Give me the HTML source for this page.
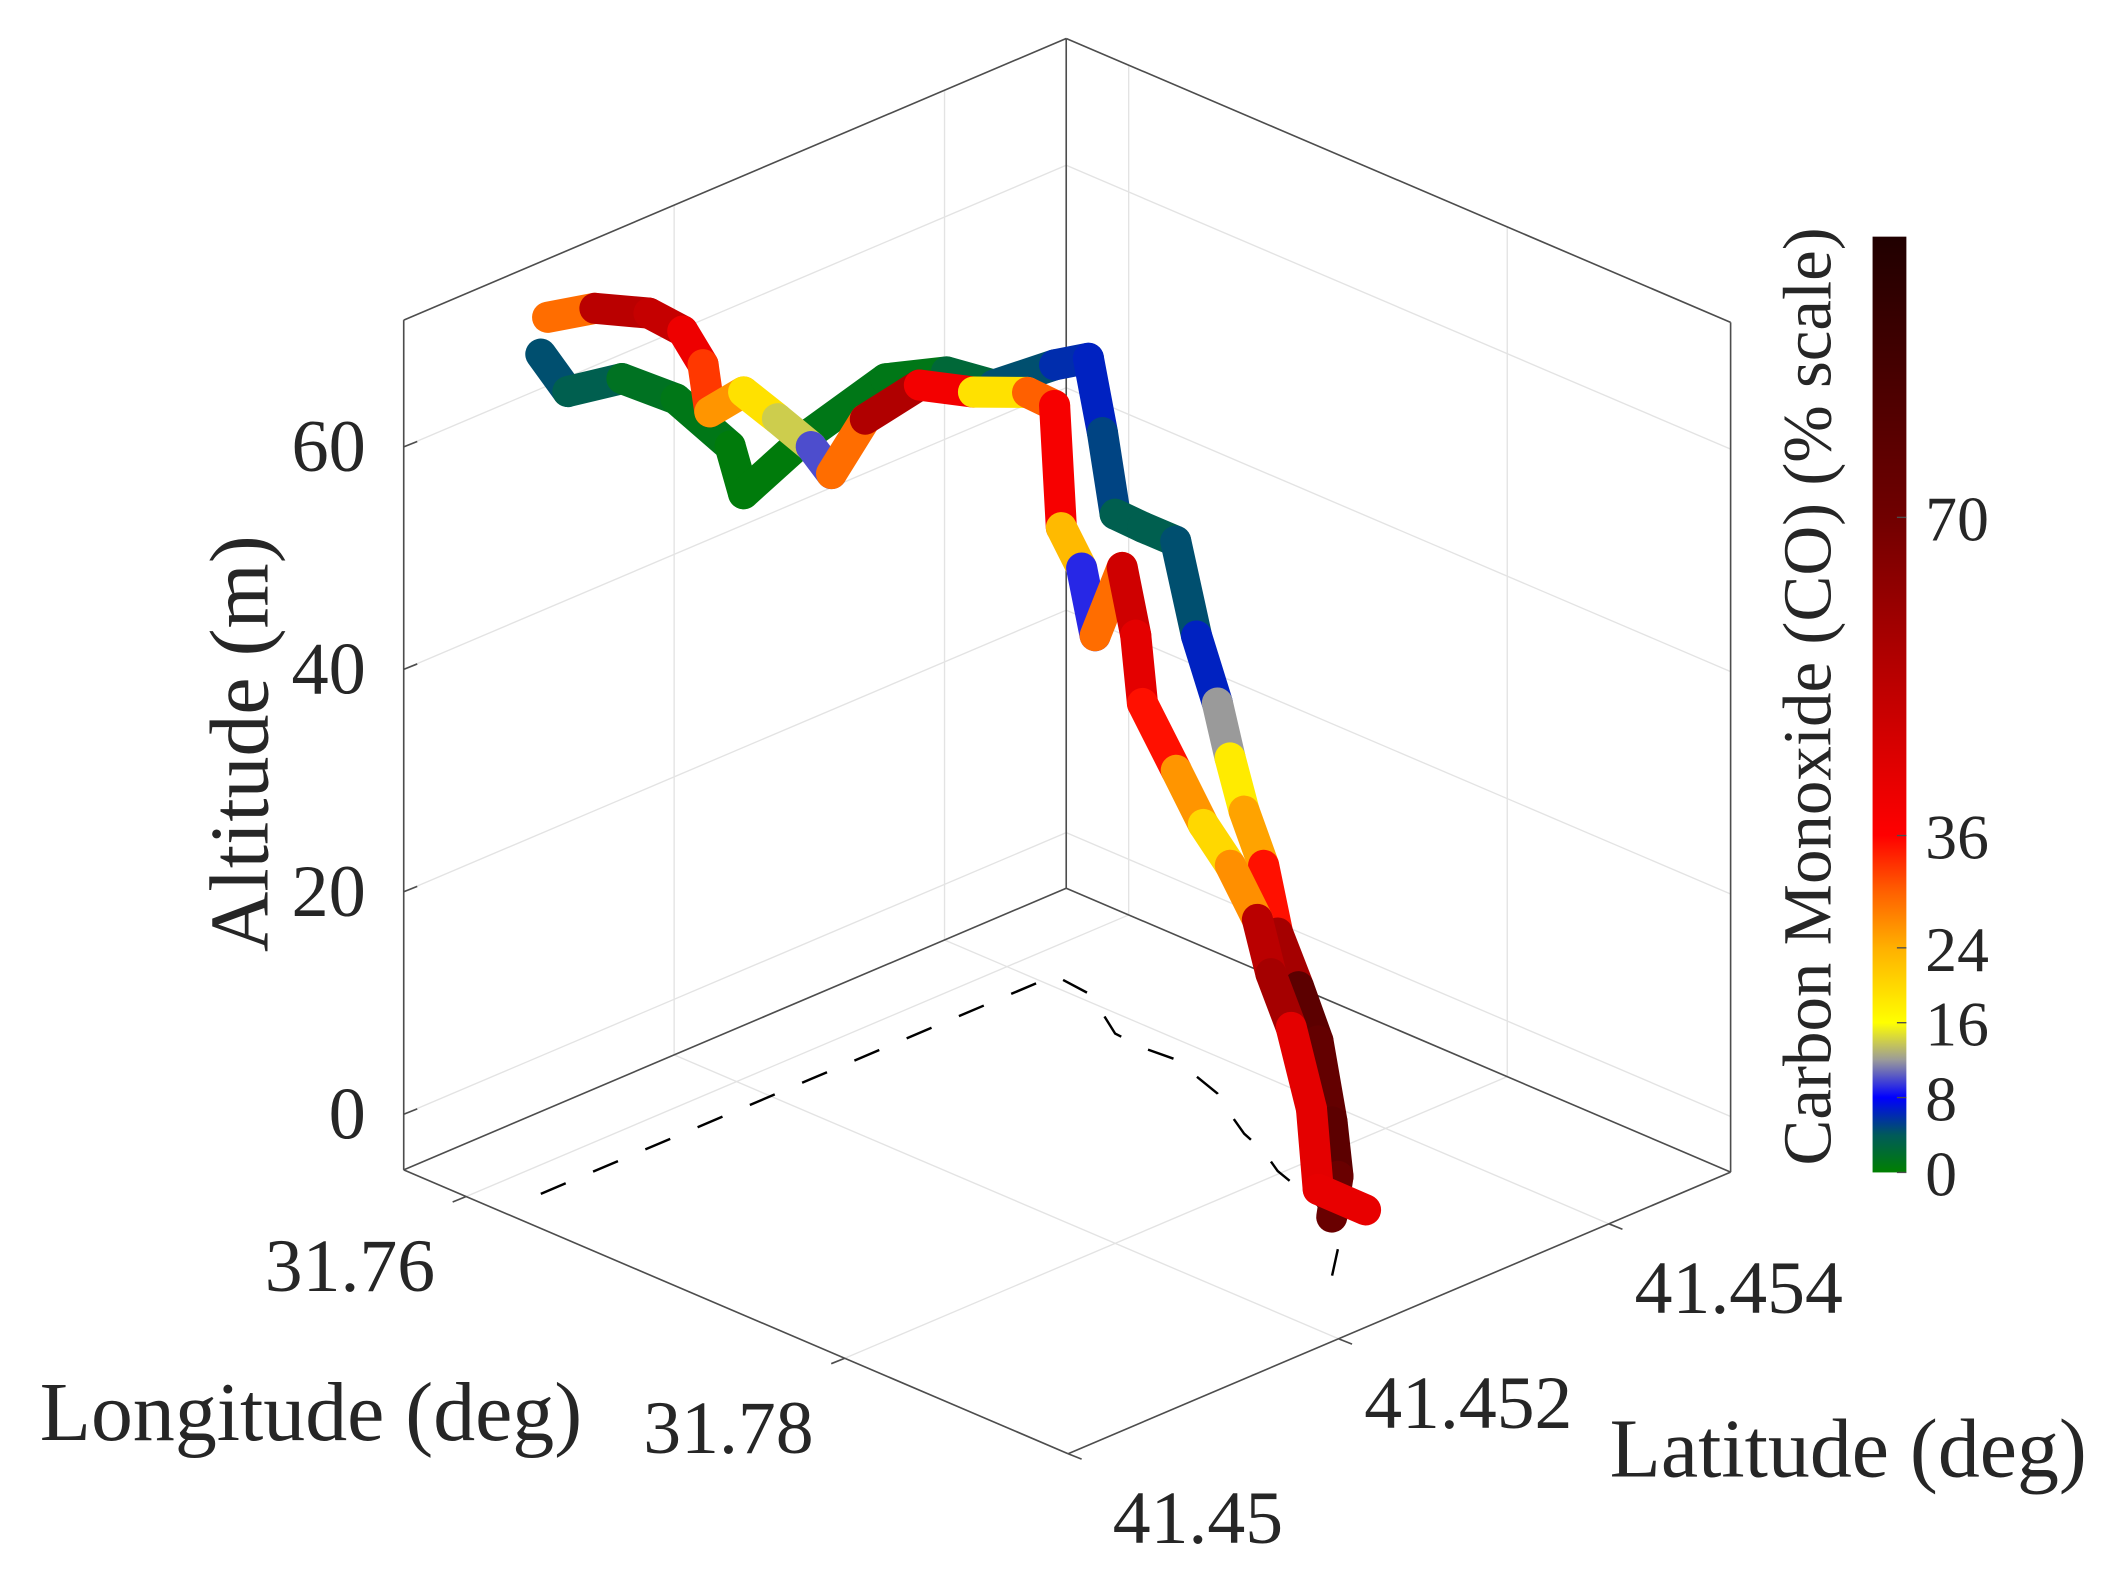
<!DOCTYPE html>
<html><head><meta charset="utf-8"><style>
html,body{margin:0;padding:0;background:#fff;}
svg{display:block;font-family:"Liberation Serif",serif;}
</style></head><body>
<svg id="chart" width="2120" height="1570" viewBox="0 0 1568 1161" preserveAspectRatio="none" xmlns="http://www.w3.org/2000/svg">
<defs>
<linearGradient id="cmap" x1="0" y1="1" x2="0" y2="0">
<stop offset="0" stop-color="#008000"/><stop offset="0.04" stop-color="#005a5a"/>
<stop offset="0.08" stop-color="#0000ff"/><stop offset="0.12" stop-color="#9a9a9a"/>
<stop offset="0.16" stop-color="#ffff00"/><stop offset="0.24" stop-color="#ffb000"/>
<stop offset="0.30" stop-color="#ff6000"/><stop offset="0.36" stop-color="#ff0000"/>
<stop offset="0.55" stop-color="#b00000"/><stop offset="0.70" stop-color="#700000"/>
<stop offset="1" stop-color="#200000"/>
</linearGradient>
</defs>
<g id="grid"></g>
<g id="box"></g>
<g id="shadow"></g>
<g id="ribbons"></g>
<g id="ticks"></g>
<text x="0" y="0" font-size="62" fill="#262626" text-anchor="middle" transform="translate(198,550) rotate(-90)">Altitude (m)</text>
<text x="230" y="1065" font-size="62" fill="#262626" text-anchor="middle">Longitude (deg)</text>
<text x="1367" y="1092" font-size="62" fill="#262626" text-anchor="middle">Latitude (deg)</text>
<rect x="1385" y="175" width="25" height="692" fill="url(#cmap)"/>
<g id="cbticks"></g>
<text x="0" y="0" font-size="51" fill="#262626" text-anchor="middle" transform="translate(1354,515) rotate(-90)">Carbon Monoxide (CO) (% scale)</text>
</svg>
<script>
// ---- data ----
const lonP = [31.7618,31.7618,31.7618,31.7618,31.7618,31.7618,31.7618,31.7618,31.7618,31.7618,31.7618,31.7638,31.7654,31.7670,31.7686,31.7702,31.7718,31.7734,31.7750,31.7766,31.7782,31.7798,31.7814,31.7830,31.7846,31.7862,31.7878];
const latP = [41.45030,41.45050,41.45090,41.45130,41.45170,41.45180,41.45230,41.45285,41.45330,41.45365,41.45410,41.45407,41.45395,41.45382,41.45380,41.45382,41.45375,41.45368,41.45355,41.45343,41.45335,41.45323,41.45316,41.45308,41.45296,41.45278,41.45251];
const altP = [70.5,66.1,65.2,61.3,55.0,50.2,53.1,55.1,53.4,50.4,49.9,52.1,47.2,41.7,41.8,41.6,34.6,30.1,27.0,24.0,20.7,16.4,13.1,9.8,4.3,1.5,0.4];
const coP  = [4,5,2,1,1,0,1,1,1,4,5,7,6,4,3,4,5,8,16,20,30,40,75,80,70,85,60];
const lonQ = [31.7588,31.7588,31.7588,31.7588,31.7588,31.7588,31.7588,31.7588,31.7588,31.7588,31.7588,31.7588,31.7588,31.7588,31.7588,31.7618,31.7638,31.7658,31.7678,31.7698,31.7718,31.7738,31.7758,31.7778,31.7798,31.7818,31.7838,31.7858,31.7878,31.7888];
const latQ = [41.45077,41.45112,41.45152,41.45177,41.45192,41.45197,41.45222,41.45247,41.45272,41.45287,41.45312,41.45352,41.45392,41.45432,41.45452,41.45415,41.45402,41.45384,41.45376,41.45358,41.45335,41.45332,41.45324,41.45316,41.45308,41.45290,41.45277,41.45264,41.45241,41.45262];
const altQ = [69.2,68.2,65.7,62.8,59.0,54.5,55.0,51.3,47.5,44.3,47.9,48.9,46.2,44.1,41.9,35.0,33.5,29.8,37.8,34.1,30.6,26.2,23.2,21.4,18.4,15.9,13.2,8.0,3.4,1.2];
const coQ  = [8,50,55,45,35,30,22,16,12,8,50,60,18,20,40,36,10,8,50,45,40,30,22,18,35,70,45,40,45,38];
const zTicks = [0,20,40,60];
const lonTicks = [31.76,31.78];
const latTicks = [41.45,41.452,41.454];
const cbTicks = [0,8,16,24,36,70];

// ---- axes ----
const LONMAX=31.7918, LONMIN=31.7567, LATMIN=41.45, LATMAX=41.4549, ZMIN=-5, ZMAX=71.4;
function proj(lon,lat,z){
  const u=(LONMAX-lon)*1000, v=(lat-LATMIN)*1000;
  return [790-14*u+100*v, 1075-5.98*u-42.5*v-(z-ZMIN)*8.225];
}
function cbY(c){return 867-c*6.92;}
const NS="http://www.w3.org/2000/svg";
function mk(tag,attrs,parent){const e=document.createElementNS(NS,tag);for(const k in attrs)e.setAttribute(k,attrs[k]);parent.appendChild(e);return e;}
const stops=[[0,[0,128,0]],[4,[0,90,90]],[8,[0,0,255]],[12,[154,154,154]],[16,[255,255,0]],[24,[255,176,0]],[30,[255,96,0]],[36,[255,0,0]],[55,[176,0,0]],[70,[112,0,0]],[100,[32,0,0]]];
function cmap(c){for(let i=0;i<stops.length-1;i++){const a=stops[i],b=stops[i+1];if(c<=b[0]){const t=(c-a[0])/(b[0]-a[0]);return 'rgb('+a[1].map((x,j)=>Math.round(x+(b[1][j]-x)*t)).join(',')+')';}}return 'rgb(32,0,0)';}
const L=(p,q,g,col,w,name)=>{const e=mk('line',{x1:p[0],y1:p[1],x2:q[0],y2:q[1],stroke:col,'stroke-width':w},g);return e;};

// grid
const grid=document.getElementById('grid');
zTicks.forEach(z=>{
  const a=proj(LONMIN,LATMIN,z),b=proj(LONMIN,LATMAX,z),c=proj(LONMAX,LATMAX,z);
  L(a,b,grid,'#e3e3e3',1,'z-gridline-left-wall');L(b,c,grid,'#e3e3e3',1,'z-gridline-right-wall');
});
latTicks.forEach(t=>{
  L(proj(LONMIN,t,ZMIN),proj(LONMIN,t,ZMAX),grid,'#e3e3e3',1,'lat-gridline-wall');
  L(proj(LONMIN,t,ZMIN),proj(LONMAX,t,ZMIN),grid,'#e3e3e3',1,'lat-gridline-floor');
});
lonTicks.forEach(t=>{
  L(proj(t,LATMAX,ZMIN),proj(t,LATMAX,ZMAX),grid,'#e3e3e3',1,'lon-gridline-wall');
  L(proj(t,LATMIN,ZMIN),proj(t,LATMAX,ZMIN),grid,'#e3e3e3',1,'lon-gridline-floor');
});
// box
const box=document.getElementById('box');
const P000=proj(LONMAX,LATMIN,ZMIN),P100=proj(LONMIN,LATMIN,ZMIN),P010=proj(LONMAX,LATMAX,ZMIN),P110=proj(LONMIN,LATMAX,ZMIN);
const P101=proj(LONMIN,LATMIN,ZMAX),P011=proj(LONMAX,LATMAX,ZMAX),P111=proj(LONMIN,LATMAX,ZMAX);
[[P000,P100],[P000,P010],[P100,P110],[P010,P110],[P100,P101],[P010,P011],[P110,P111],[P101,P111],[P011,P111]].forEach(s=>L(s[0],s[1],box,'#4d4d4d',1.2,'axis-edge'));

// ground shadow (trace of path P at floor)
const sh=document.getElementById('shadow');
{
  const pts=lonP.map((x,i)=>proj(x,latP[i],ZMIN).join(',')).join(' ');
  const e=mk('polyline',{points:pts,fill:'none',stroke:'#000','stroke-width':1.8,'stroke-dasharray':'20 22'},sh);
  
  
}

// ribbons
const rg=document.getElementById('ribbons');
function drawRibbon(lo,la,al,co,name){
  for(let i=0;i<lo.length-1;i++){
    const a=proj(lo[i],la[i],al[i]),b=proj(lo[i+1],la[i+1],al[i+1]);
    const e=mk('line',{x1:a[0],y1:a[1],x2:b[0],y2:b[1],stroke:cmap((co[i]+co[i+1])/2),'stroke-width':23,'stroke-linecap':'round'},rg);
    
    
  }
}
drawRibbon(lonP,latP,altP,coP,'ribbon-segment-a');
drawRibbon(lonQ,latQ,altQ,coQ,'ribbon-segment-b');

// ticks & labels
const tg=document.getElementById('ticks');
zTicks.forEach(z=>{
  const p=proj(LONMIN,LATMIN,z);
  L(p,[p[0]+10,p[1]-4],tg,'#4d4d4d',1.2,'z-tick');
  const t=mk('text',{x:p[0]-28,y:p[1]+18,'font-size':55,fill:'#262626','text-anchor':'end'},tg);t.textContent=z;
  
});
lonTicks.forEach(v=>{
  const p=proj(v,LATMIN,ZMIN);
  L(p,[p[0]-10,p[1]+4],tg,'#4d4d4d',1.2,'lon-tick');
  const t=mk('text',{x:p[0]-86,y:p[1]+70,'font-size':56,fill:'#262626','text-anchor':'middle'},tg);t.textContent=v.toFixed(2);
  
});
latTicks.forEach(v=>{
  const p=proj(LONMAX,v,ZMIN);
  L(p,[p[0]+10,p[1]+4],tg,'#4d4d4d',1.2,'lat-tick');
  const t=mk('text',{x:p[0]+96,y:p[1]+66,'font-size':56,fill:'#262626','text-anchor':'middle'},tg);t.textContent=String(v);
  
});
const cg=document.getElementById('cbticks');
cbTicks.forEach(c=>{
  const y=cbY(c);
  L([1403,y],[1410,y],cg,'#4d4d4d',1,'colorbar-tick');
  const t=mk('text',{x:1424,y:y+17,'font-size':47,fill:'#262626'},cg);t.textContent=c;
  
});
</script>
</body></html>
